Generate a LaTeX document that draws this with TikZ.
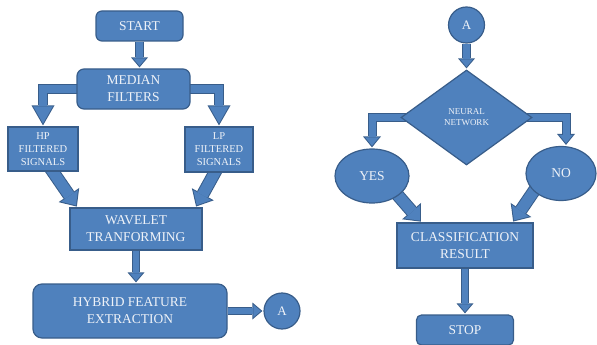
\documentclass[tikz,border=0pt]{standalone}
\usepackage{fontspec}
\setmainfont{Liberation Serif}
\usetikzlibrary{calc}
\usetikzlibrary{positioning}
\usetikzlibrary{shapes.geometric}
\usetikzlibrary{arrows.meta}
\usetikzlibrary{backgrounds}

\definecolor{boxfill}{HTML}{4F81BD}
\definecolor{boxline}{HTML}{385D8A}
\definecolor{boxtext}{HTML}{EEF2F8}

\tikzset{
  box/.style={draw=boxline, fill=boxfill, line width=1.2pt, text=boxtext,
              align=center, inner sep=0pt, font=\fontsize{13.5}{17}\selectfont},
  roundbox/.style={box, rounded corners=6pt},
  smallbox/.style={box, font=\fontsize{10.5}{13}\selectfont},
  thinarrow/.style={line width=8.5pt, draw=boxline, shorten >=1pt,
              -{Triangle[width=17pt,length=10pt,line width=0pt]},
              postaction={draw=boxfill, line width=6.5pt, shorten >=2.5pt,
              -{Triangle[width=12.7pt,length=7.5pt,line width=0pt]}}},
  bigelbow/.style={line width=10.5pt, draw=boxline, shorten >=1pt,
              -{Triangle[width=23pt,length=20pt,line width=0pt]},
              postaction={draw=boxfill, line width=8.5pt, shorten >=3pt,
              -{Triangle[width=19.6pt,length=17pt,line width=0pt]}}},
  smallelbow/.style={line width=9pt, draw=boxline, shorten >=1pt,
              -{Triangle[width=18pt,length=11pt,line width=0pt]},
              postaction={draw=boxfill, line width=7pt, shorten >=2.6pt,
              -{Triangle[width=13.8pt,length=8.4pt,line width=0pt]}}},
  fatarrow/.style={line width=13pt, draw=boxline, shorten >=1pt,
              -{Triangle[width=25pt,length=14pt,line width=0pt]},
              postaction={draw=boxfill, line width=11pt, shorten >=2.5pt,
              -{Triangle[width=20.5pt,length=11.5pt,line width=0pt]}}}
}

\begin{document}
\begin{tikzpicture}[x=1pt, y=-1pt]
 \useasboundingbox (0,0) rectangle (597,345);

 % left chart
 \node[roundbox, minimum width=87pt, minimum height=30pt] (start) at (139.5,26) {START};
 \node[roundbox, rounded corners=7pt, minimum width=113pt, minimum height=40pt]
      (median) at (133.5,89) {MEDIAN\\FILTERS};
 \node[smallbox, minimum width=70pt, minimum height=44pt] (hp) at (43,149)
      {HP\\FILTERED\\SIGNALS};
 \node[smallbox, minimum width=68pt, minimum height=45pt] (lp) at (219,149.5)
      {LP\\FILTERED\\SIGNALS};
 \node[box, minimum width=132pt, minimum height=42pt] (wavelet) at (136,229)
      {WAVELET\\TRANFORMING};
 \node[roundbox, rounded corners=9pt, minimum width=194pt, minimum height=54pt]
      (hybrid) at (130,311) {HYBRID FEATURE\\EXTRACTION};
 \node[box, circle, minimum size=36pt, font=\fontsize{13}{15}\selectfont]
      (aout) at (282,311) {A};

 % right chart
 \node[box, circle, minimum size=36pt, font=\fontsize{13}{15}\selectfont]
      (ain) at (466.5,25) {A};
 \node[box, diamond, aspect=1.38, minimum width=131pt, minimum height=95pt,
       font=\fontsize{9}{11}\selectfont] (network) at (466.5,117.5) {NEURAL\\NETWORK};
 \node[box, ellipse, minimum width=74pt, minimum height=54pt] (yes) at (372,176) {YES};
 \node[box, ellipse, minimum width=70pt, minimum height=54pt] (no) at (561,173.5) {NO};
 \node[box, minimum width=136pt, minimum height=45pt] (result) at (465,245.5)
      {CLASSIFICATION\\RESULT};
 \node[roundbox, rounded corners=5pt, minimum width=97pt, minimum height=30pt]
      (stop) at (465,330) {STOP};

 \begin{pgfonlayer}{background}
  \draw[thinarrow] (start.south) -- (start.south |- median.north);
  \draw[bigelbow] ([xshift=4pt]median.west) -| (hp.north);
  \draw[bigelbow] ([xshift=-4pt]median.east) -| (lp.north);
  \draw[fatarrow] ($(hp.south)+(7,-4)$) -- ($(wavelet.north west)+(8,0)$);
  \draw[fatarrow] ($(lp.south)+(-2,-4)$) -- ($(wavelet.north east)+(-7,0)$);
  \draw[thinarrow] (wavelet.south) -- (wavelet.south |- hybrid.north);
  \draw[thinarrow] (hybrid.east) -- (aout.west);

  \draw[thinarrow] (ain.south) -- (network.north);
  \draw[smallelbow] ([xshift=6pt]network.west) -| (yes.north);
  \draw[smallelbow] ([xshift=-6pt]network.east) -| ([xshift=5pt]no.north);
  \draw[fatarrow] ($(yes.center)+(23,16)$) -- ($(result.north west)+(25,0)$);
  \draw[fatarrow] ($(no.center)+(-25,14.5)$) -- ($(result.north east)+(-21,0)$);
  \draw[thinarrow] (result.south) -- (stop.north);
 \end{pgfonlayer}
\end{tikzpicture}
\end{document}
